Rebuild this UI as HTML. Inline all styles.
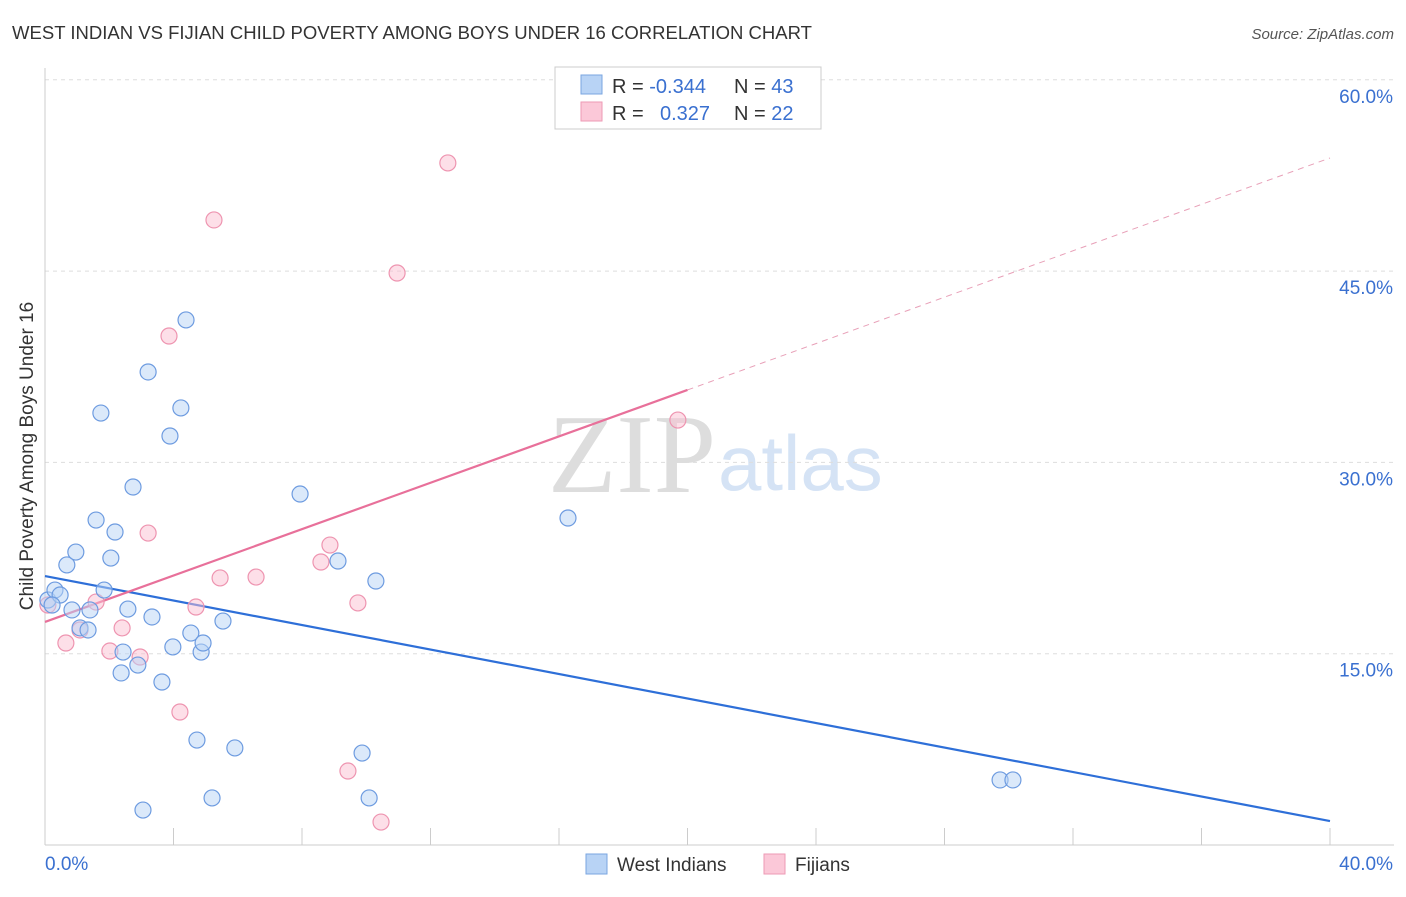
<!DOCTYPE html>
<html><head><meta charset="utf-8"><style>
body{margin:0;background:#fff;font-family:"Liberation Sans",sans-serif}
svg text{font-family:"Liberation Sans",sans-serif}
</style></head><body>
<svg id="c" width="1406" height="892" xmlns="http://www.w3.org/2000/svg">
<text x="12" y="39" font-size="18" fill="#333" textLength="800" lengthAdjust="spacingAndGlyphs">WEST INDIAN VS FIJIAN CHILD POVERTY AMONG BOYS UNDER 16 CORRELATION CHART</text>
<text x="1394" y="39" font-size="15" fill="#555" font-style="italic" text-anchor="end">Source: ZipAtlas.com</text>
<text x="716" y="492" font-size="112" fill="#ddd" text-anchor="end" style="font-family:'Liberation Serif',serif">ZIP</text>
<text x="718" y="490" font-size="78" fill="#d5e3f5">atlas</text>
<text transform="translate(33,456) rotate(-90)" font-size="19" fill="#333" text-anchor="middle">Child Poverty Among Boys Under 16</text>
<g id="grid"></g><g id="trend"></g><g id="pts"></g>
<g>
<rect x="555" y="67" width="266" height="62" fill="#fff" stroke="#ccc"/>
<rect x="581" y="75" width="21" height="19" fill="#b8d3f5" stroke="#7aa6e0"/>
<rect x="581" y="102" width="21" height="19" fill="#fbc8d8" stroke="#ee9ab5"/>
<text x="612" y="93" font-size="20" fill="#333">R = <tspan fill="#3a70d0">-0.344</tspan></text>
<text x="734" y="93" font-size="20" fill="#333">N = <tspan fill="#3a70d0">43</tspan></text>
<text x="612" y="120" font-size="20" fill="#333">R = <tspan fill="#3a70d0" x="660">0.327</tspan></text>
<text x="734" y="120" font-size="20" fill="#333">N = <tspan fill="#3a70d0">22</tspan></text>
</g>
<g>
<rect x="586" y="854" width="21" height="20" fill="#b8d3f5" stroke="#7aa6e0"/>
<text x="617" y="871" font-size="19" fill="#333">West Indians</text>
<rect x="764" y="854" width="21" height="20" fill="#fbc8d8" stroke="#ee9ab5"/>
<text x="795" y="871" font-size="19" fill="#333">Fijians</text>
</g>
</svg>
<script>
const blueX=[0.09,0.31,0.47,0.22,0.68,0.84,0.96,1.09,1.34,1.40,1.59,1.74,1.84,2.05,2.18,2.43,2.37,2.58,2.74,2.89,3.21,3.33,3.05,3.64,3.89,3.98,4.23,4.39,4.54,4.73,4.86,4.92,5.20,5.54,5.91,7.94,9.12,9.87,10.09,10.30,16.28,29.73,30.13];
const blueY=[19.21,19.99,19.6,18.82,21.96,18.43,22.97,17.02,16.86,18.43,25.48,33.87,19.99,22.5,24.54,15.13,13.49,18.5,28.07,14.11,37.09,17.88,2.74,12.78,32.07,15.53,34.27,41.17,16.62,8.23,15.13,15.84,3.69,17.56,7.61,27.52,22.27,7.21,3.69,20.70,25.64,5.10,5.10];
const pinkX=[0.09,0.65,1.09,1.59,2.02,2.40,2.96,3.21,3.86,4.20,4.70,5.26,5.45,6.57,8.59,8.87,9.43,9.74,10.46,10.96,12.54,19.70];
const pinkY=[18.82,15.84,16.86,19.05,15.21,17.02,14.74,24.46,39.91,10.43,18.66,49.01,20.94,21.01,22.19,23.52,5.80,18.98,1.80,44.85,53.48,33.32];
const blueTrend=[21.09,1.88];
const pinkTrend=[17.49,53.87];
const pinkSolidEnd=20;
const yTicks=[15,30,45,60];
const yTickLabels=["15.0%","30.0%","45.0%","60.0%"];
const xTicks=[0,4,8,12,16,20,24,28,32,36,40];
const NS="http://www.w3.org/2000/svg";
const X=v=>45+v/40*1285, Y=v=>845-v/15*191.3;
function mk(t,a,p){const e=document.createElementNS(NS,t);for(const k in a)e.setAttribute(k,a[k]);p.appendChild(e);return e;}
const g=document.getElementById('grid');
yTicks.forEach((t,i)=>{const l=mk('line',{x1:45,x2:1394,y1:Y(t),y2:Y(t),stroke:'#ddd','stroke-dasharray':'4,4'},g);


const tx=mk('text',{x:1393,y:Y(t)+23,'font-size':19,fill:'#3a70d0','text-anchor':'end'},g);tx.textContent=yTickLabels[i];

});
const ax=mk('line',{x1:45,x2:1394,y1:845,y2:845,stroke:'#ccc'},g);


const ay=mk('line',{x1:45,x2:45,y1:68,y2:845,stroke:'#ccc'},g);


xTicks.forEach(t=>{const l=mk('line',{x1:X(t),x2:X(t),y1:828,y2:845,stroke:'#ccc'},g);

});
const x0=mk('text',{x:45,y:870,'font-size':19,fill:'#3a70d0'},g);x0.textContent='0.0%';


const x1=mk('text',{x:1393,y:870,'font-size':19,fill:'#3a70d0','text-anchor':'end'},g);x1.textContent='40.0%';


const p=document.getElementById('pts');
function dots(xs,ys,fill,stroke,name){xs.forEach((x,i)=>{const c=mk('circle',{cx:X(x),cy:Y(ys[i]),r:8,fill:fill,'fill-opacity':0.5,stroke:stroke,'stroke-width':1.2},p);

});}
dots(pinkX,pinkY,'#fbc0d2','#ee94b0','fijian-point');
dots(blueX,blueY,'#b8d3f5','#6d9be0','west-indian-point');
const tr=document.getElementById('trend');
const bl=mk('line',{x1:X(0),y1:Y(blueTrend[0]),x2:X(40),y2:Y(blueTrend[1]),stroke:'#2e6fd8','stroke-width':2.2},tr);


const pv=x=>pinkTrend[0]+(pinkTrend[1]-pinkTrend[0])*x/40;
const ps=mk('line',{x1:X(0),y1:Y(pv(0)),x2:X(pinkSolidEnd),y2:Y(pv(pinkSolidEnd)),stroke:'#e8709a','stroke-width':2.2},tr);


const pd=mk('line',{x1:X(pinkSolidEnd),y1:Y(pv(pinkSolidEnd)),x2:X(40),y2:Y(pv(40)),stroke:'#e8a0b8','stroke-width':1,'stroke-dasharray':'6,5'},tr);


</script>
</body></html>
